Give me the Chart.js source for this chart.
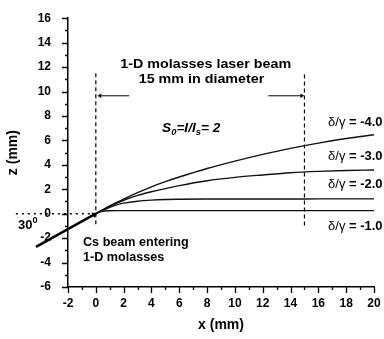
<!DOCTYPE html>
<html><head><meta charset="utf-8">
<script src="https://cdn.jsdelivr.net/npm/chart.js@4"></script>
<style>html,body{margin:0;padding:0;background:#fff}#wrap{width:384px;height:339px;position:relative}</style>
</head><body><div id="wrap"><canvas id="c"></canvas></div>
<script>
// ---- data ----
const xPositions   = [0, 0.25, 0.5, 1, 1.5, 2, 3, 4, 5, 6, 8, 10, 12, 14, 16, 18, 20];
const zDetuning4   = [0, 0.16, 0.32, 0.63, 0.92, 1.2, 1.72, 2.2, 2.62, 3.0, 3.7, 4.3, 4.85, 5.35, 5.78, 6.15, 6.46];
const zDetuning3   = [0, 0.16, 0.31, 0.6, 0.86, 1.1, 1.5, 1.8, 2.05, 2.3, 2.7, 2.97, 3.17, 3.35, 3.46, 3.53, 3.58];
const zDetuning2   = [0, 0.14, 0.28, 0.52, 0.72, 0.86, 1.02, 1.11, 1.16, 1.18, 1.2, 1.2, 1.2, 1.2, 1.21, 1.21, 1.21];
const zDetuning1   = [0, 0.13, 0.2, 0.24, 0.25, 0.25, 0.25, 0.25, 0.25, 0.25, 0.25, 0.25, 0.25, 0.25, 0.25, 0.25, 0.25];
const detuningLabels = ['-4.0', '-3.0', '-2.0', '-1.0'];
const xTickValues  = [-2, 0, 2, 4, 6, 8, 10, 12, 14, 16, 18, 20];
const zTickValues  = [-6, -4, -2, 0, 2, 4, 6, 8, 10, 12, 14, 16];
const beamEdgesX   = [0, 15];          // laser beam edges (mm)
const csBeamStart  = [-4.3, -2.72];    // Cs beam line start (x, z), ends at origin
const arrowZ       = 9.65;

const pts = (xs, ys) => xs.map((x, i) => ({x, y: ys[i]}));
const FONT = "'Liberation Sans', Arial, sans-serif";

const curveStyle = {borderColor: '#111', borderWidth: 1.4, pointRadius: 0, fill: false, cubicInterpolationMode: 'monotone'};
const datasets = [
  {label: 'd4', data: pts(xPositions, zDetuning4), ...curveStyle},
  {label: 'd3', data: pts(xPositions, zDetuning3), ...curveStyle},
  {label: 'd2', data: pts(xPositions, zDetuning2), ...curveStyle},
  {label: 'd1', data: pts(xPositions, zDetuning1), ...curveStyle},
  {label: 'zero', data: [{x: -5.75, y: 0}, {x: 0, y: 0}], borderColor: '#000', borderWidth: 1.6, borderDash: [2, 4], pointRadius: 0, clip: false},
  {label: 'edgeL', data: [{x: beamEdgesX[0], y: 11.5}, {x: beamEdgesX[0], y: -1.1}], borderColor: '#000', borderWidth: 1.2, borderDash: [4, 3], pointRadius: 0},
  {label: 'edgeR', data: [{x: beamEdgesX[1], y: 11.4}, {x: beamEdgesX[1], y: -1.1}], borderColor: '#000', borderWidth: 1.2, borderDash: [4, 3], pointRadius: 0},
  {label: 'cs', data: [{x: csBeamStart[0], y: csBeamStart[1]}, {x: -0.1, y: -0.063}], borderColor: '#000', borderWidth: 2.6, clip: false,
   pointStyle: 'triangle', pointRadius: [0, 3.5], pointRotation: 60, pointBackgroundColor: '#000', pointBorderColor: '#000', pointBorderWidth: 0},
  {label: 'arrL', data: [{x: 2.4, y: arrowZ}, {x: 0.3, y: arrowZ}], borderColor: '#000', borderWidth: 1,
   pointStyle: 'triangle', pointRadius: [0, 2.5], pointRotation: -90, pointBackgroundColor: '#000', pointBorderColor: '#000', pointBorderWidth: 0},
  {label: 'arrR', data: [{x: 12.4, y: arrowZ}, {x: 14.8, y: arrowZ}], borderColor: '#000', borderWidth: 1,
   pointStyle: 'triangle', pointRadius: [0, 2.5], pointRotation: 90, pointBackgroundColor: '#000', pointBorderColor: '#000', pointBorderWidth: 0}
];

// annotations in data coordinates
function drawStretched(ctx, parts, x, y, align, sx) {
  // parts: [{t, font, dy}]
  let w = 0;
  parts.forEach(p => { ctx.font = p.font; p.w = ctx.measureText(p.t).width; w += p.w; });
  ctx.save();
  ctx.translate(x, y);
  ctx.scale(sx, 1);
  let cx = align === 'center' ? -w / 2 : 0;
  ctx.textBaseline = 'middle';
  ctx.textAlign = 'left';
  ctx.fillStyle = '#000';
  parts.forEach(p => { ctx.font = p.font; ctx.fillText(p.t, cx, p.dy || 0); cx += p.w; });
  ctx.restore();
}

const tickPlugin = {
  id: 'ticksAndText',
  afterDraw(chart) {
    const ctx = chart.ctx, xs = chart.scales.x, ys = chart.scales.y, a = chart.chartArea;
    ctx.save();
    ctx.strokeStyle = '#000';
    ctx.lineWidth = 1.3;
    ctx.beginPath();
    for (let v = -2; v <= 20; v++) {
      const px = Math.round(xs.getPixelForValue(v)) + 0.5;
      const len = v % 2 === 0 ? 6 : 3;
      ctx.moveTo(px, a.bottom); ctx.lineTo(px, a.bottom + len);
    }
    for (let v = -6; v <= 16; v++) {
      const py = Math.round(ys.getPixelForValue(v)) + 0.5;
      const len = v % 2 === 0 ? 6 : 3;
      ctx.moveTo(a.left, py); ctx.lineTo(a.left - len, py);
    }
    ctx.stroke();
    ctx.restore();

    const X = v => xs.getPixelForValue(v), Y = v => ys.getPixelForValue(v);
    const B = s => 'bold ' + s + 'px ' + FONT;
    const BI = s => 'italic bold ' + s + 'px ' + FONT;
    const R = s => s + 'px ' + FONT;
    drawStretched(ctx, [{t: '1-D molasses laser beam', font: B(13)}], X(7.9), Y(12.2), 'center', 1.1);
    drawStretched(ctx, [{t: '15 mm in diameter', font: B(13)}], X(7.6), Y(11.0), 'center', 1.1);
    drawStretched(ctx, [
      {t: 'S', font: BI(13)}, {t: '0', font: BI(9), dy: 4},
      {t: '=I/I', font: BI(13)}, {t: 's', font: BI(9), dy: 4},
      {t: '= 2', font: BI(13)}], X(4.76), Y(7.0), 'left', 1.05);
    const labY = [7.43, 4.64, 2.37, -1.05];
    detuningLabels.forEach((d, i) => {
      drawStretched(ctx, [{t: 'δ/γ', font: R(12)}, {t: ' = ' + d, font: B(12)}], X(16.7), Y(labY[i]), 'left', 1.08);
    });
    drawStretched(ctx, [{t: 'Cs beam entering', font: B(12)}], X(-0.92), Y(-2.35), 'left', 1.05);
    drawStretched(ctx, [{t: '1-D molasses', font: B(12)}], X(-0.92), Y(-3.6), 'left', 1.05);
    drawStretched(ctx, [{t: '30', font: B(13)}, {t: '0', font: B(9), dy: -5}], X(-5.6), Y(-0.99), 'left', 1.0);
  }
};

new Chart(document.getElementById('c'), {
  type: 'line',
  data: {datasets},
  options: {
    responsive: true, maintainAspectRatio: false, animation: false,
    layout: {padding: {left: 0, right: 10, top: 9, bottom: 0}},
    plugins: {legend: {display: false}, tooltip: {enabled: false}},
    scales: {
      x: {
        type: 'linear', min: -2, max: 20,
        afterFit: s => { s.height = 52; },
        afterBuildTicks: s => { s.ticks = xTickValues.map(v => ({value: v})); },
        grid: {display: false, drawTicks: true, tickLength: 6},
        border: {display: true, color: '#000', width: 1.5},
        ticks: {color: '#000', font: {family: FONT, size: 12, weight: 'bold'}, padding: 3, maxRotation: 0, autoSkip: false},
        title: {display: true, text: 'x (mm)', color: '#000', font: {family: FONT, size: 14, weight: 'bold'}, padding: {top: 0, bottom: 5}}
      },
      y: {
        type: 'linear', min: -6, max: 16,
        afterFit: s => { s.width = 68; },
        afterBuildTicks: s => { s.ticks = zTickValues.map(v => ({value: v})); },
        grid: {display: false, drawTicks: true, tickLength: 6},
        border: {display: true, color: '#000', width: 1.5},
        ticks: {color: '#000', font: {family: FONT, size: 12, weight: 'bold'}, padding: 11, autoSkip: false},
        title: {display: true, text: 'z (mm)', color: '#000', font: {family: FONT, size: 14, weight: 'bold'}, padding: {top: 5, bottom: 0}}
      }
    }
  },
  plugins: [tickPlugin]
});
</script>
</body></html>
